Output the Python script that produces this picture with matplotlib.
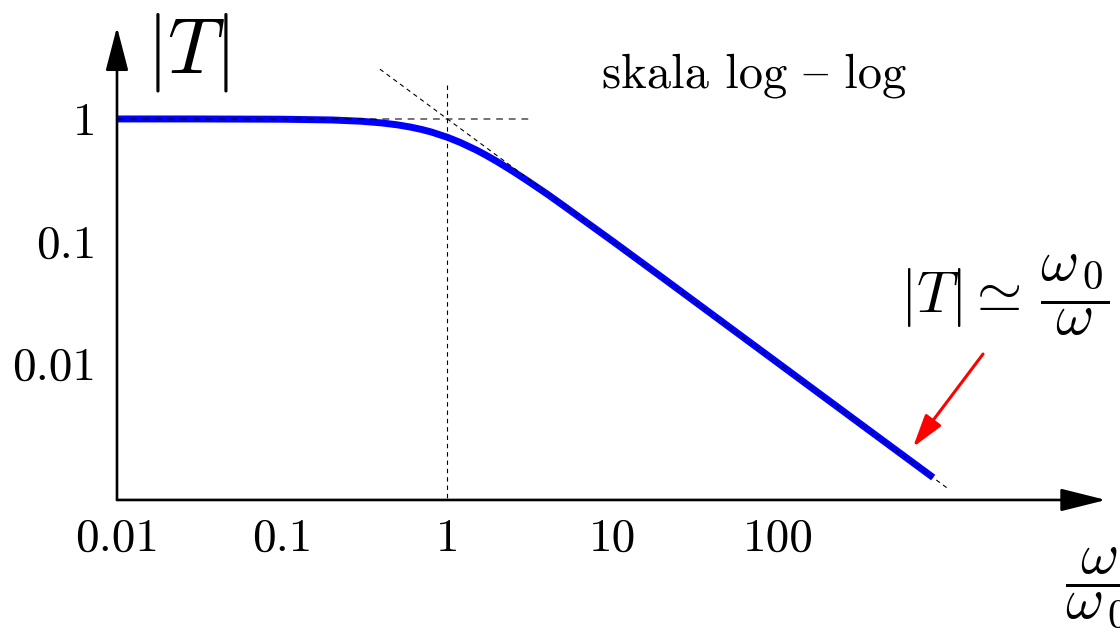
import matplotlib
matplotlib.use("Agg")
import matplotlib.pyplot as plt
from matplotlib.ticker import FixedLocator, NullFormatter

plt.rcParams['mathtext.fontset'] = 'cm'
plt.rcParams['axes.unicode_minus'] = False

# ---- data ----
omega = [0.01, 0.03, 0.1, 0.2, 0.3, 0.4, 0.5, 0.6, 0.7, 0.8, 1.0, 1.2, 1.5,
         1.7, 2.0, 2.5, 3.0, 4.0, 5.0, 7.0, 10, 20, 50, 100, 300, 870]
T_mag = [1.0, 1.0, 0.995, 0.981, 0.958, 0.928, 0.894, 0.857, 0.819, 0.781,
         0.707, 0.640, 0.555, 0.507, 0.447, 0.371, 0.316, 0.243, 0.196,
         0.141, 0.0995, 0.050, 0.020, 0.0100, 0.00333, 0.00115]

asym_omega = [0.39, 1050]
asym_T = [2.56, 0.00095]

hguide_omega = [0.01, 3.16]
hguide_T = [1, 1]
vguide_omega = [1, 1]
vguide_T = [1.9, 10 ** -3.123]

xticks = [0.01, 0.1, 1, 10, 100]
xtick_labels = ['0.01', '0.1', '1', '10', '100']
xtick_marks = [0.1, 1, 10, 100]
yticks = [0.01, 0.1, 1]
ytick_labels = ['0.01', '0.1', '1']
ytick_marks = [0.01, 0.1]

x_origin, y_origin = 0.01, 10 ** -3.123
x_tip, y_tip = 10 ** 3.985, 10 ** 0.754

fig = plt.figure(figsize=(11.2, 6.41), dpi=100)
ax = fig.add_axes([0, 0, 1, 1])
ax.set_xscale('log')
ax.set_yscale('log')
ax.set_xlim(10 ** -2.708, 10 ** 4.070)
ax.set_ylim(10 ** -4.279, 10 ** 0.975)

for s in ax.spines.values():
    s.set_visible(False)
ax.spines['left'].set_position(('data', x_origin))
ax.spines['bottom'].set_position(('data', y_origin))
ax.xaxis.set_ticks_position('bottom')
ax.yaxis.set_ticks_position('left')

ax.xaxis.set_major_locator(FixedLocator(xticks))
ax.set_xticklabels(xtick_labels)
ax.xaxis.set_minor_locator(FixedLocator(xtick_marks))
ax.xaxis.set_minor_formatter(NullFormatter())
ax.yaxis.set_major_locator(FixedLocator(yticks))
ax.set_yticklabels(ytick_labels)
ax.yaxis.set_minor_locator(FixedLocator(ytick_marks))
ax.yaxis.set_minor_formatter(NullFormatter())

ax.tick_params(which='major', length=0, labelsize=34)
ax.tick_params(axis='x', which='major', pad=13)
ax.tick_params(axis='y', which='major', pad=15)
ax.tick_params(which='minor', direction='inout', length=17, width=0.8)
for lab in ax.get_xticklabels() + ax.get_yticklabels():
    lab.set_family('cmr10')

# axes with arrows
ax.annotate('', xy=(x_tip, y_origin), xytext=(x_origin, y_origin),
            arrowprops=dict(arrowstyle='-|>,head_length=28,head_width=7',
                            mutation_scale=1, lw=1.9, color='k',
                            shrinkA=0, shrinkB=0), zorder=5)
ax.annotate('', xy=(x_origin, y_tip), xytext=(x_origin, y_origin),
            arrowprops=dict(arrowstyle='-|>,head_length=27,head_width=7',
                            mutation_scale=1, lw=1.9, color='k',
                            shrinkA=0, shrinkB=0), zorder=5)

# curve
ax.plot(omega, T_mag, color='#0000ff', lw=5, solid_capstyle='butt', zorder=2)

# guides
ax.plot(hguide_omega, hguide_T, color='k', alpha=0.55, lw=1.4,
        dashes=(3.5, 3), zorder=3)
ax.plot(vguide_omega, vguide_T, color='k', lw=0.8, dashes=(4, 3.5), zorder=3)
ax.plot(asym_omega, asym_T, color='k', lw=0.8, dashes=(4, 3.5), zorder=3)

# texts
ax.text(0.167, 0.918, r'$|T|$', transform=ax.transAxes, fontsize=57,
        ha='center', va='center')
ax.text(0.673, 0.864, 'skala log { log', transform=ax.transAxes,
        fontsize=35, family='cmr10', ha='center', va='baseline')
ax.text(0.897, 0.540, r'$|T|\simeq\,\dfrac{\omega_{\,0}}{\omega}$',
        transform=ax.transAxes, fontsize=42, ha='center', va='center')
ax.text(0.951, 0.083, r'$\dfrac{\omega}{\omega_{\,0}}$',
        transform=ax.transAxes, fontsize=42, ha='left', va='center')

# red arrow
ax.annotate('', xy=(0.8152, 0.3026), xytext=(0.8777, 0.4477),
            xycoords='axes fraction', textcoords='axes fraction',
            arrowprops=dict(arrowstyle='-|>,head_length=20,head_width=6',
                            mutation_scale=1, lw=2.2, color='#ff0000',
                            shrinkA=0, shrinkB=0))

fig.savefig('out.png', dpi=100, facecolor='white')
